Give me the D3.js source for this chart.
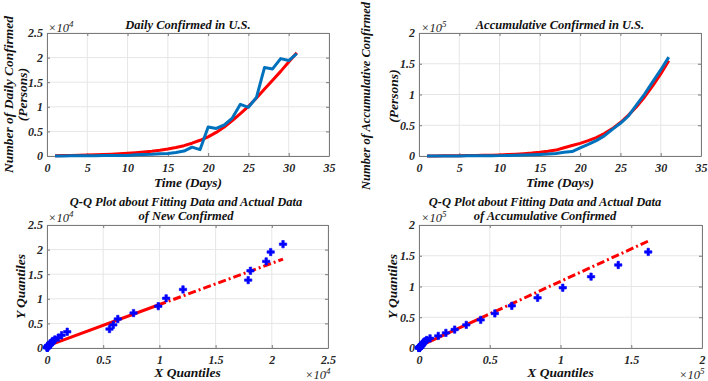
<!DOCTYPE html>
<html><head><meta charset="utf-8">
<script src="https://cdn.jsdelivr.net/npm/d3@7"></script>
<style>
body{margin:0;background:#fff;}
svg text{font-family:"Liberation Serif","Times New Roman",serif;}
</style>
</head><body>
<svg id="c" width="708" height="381"></svg>
<script>
// ---------- data ----------
const days = [1,2,3,4,5,6,7,8,9,10,11,12,13,14,15,16,17,18,19,20,21,22,23,24,25,26,27,28,29,30,31];
const dailyActual = [20,20,30,30,50,60,80,100,120,100,250,300,350,450,500,700,1000,1800,1300,5900,5600,6300,7700,10500,9900,11900,18000,17700,19800,19400,20800];
const dailyFit = [50,80,110,150,190,240,300,370,450,550,660,800,970,1180,1430,1730,2100,2600,3200,3900,4800,5900,7200,8600,10100,11800,13600,15400,17200,19100,21000];
const cumActual = [20,40,70,100,150,210,290,390,510,610,860,1160,1510,1960,2460,3160,4160,5960,7260,13160,18760,25060,32760,43260,53160,65060,83060,100760,120560,139960,160760];
const cumFit = [100,200,300,400,500,700,900,1100,1400,1800,2300,2900,3700,4700,6000,7600,9600,13500,17000,20500,25000,30000,36500,44500,54500,66500,80000,96000,114000,133500,155000];

const qqNewX = [20,20,30,30,50,60,80,100,100,120,250,300,350,450,500,700,1000,1300,1800,5560,5900,6300,7700,9900,10600,12100,17900,18100,19500,19900,21000];
const qqNewY = [50,80,110,150,190,240,300,370,450,550,660,800,970,1180,1430,1730,2100,2600,3300,3850,4700,5900,7100,8500,10100,11900,13800,15700,17600,19500,21100];
const qqNewRefX = [20,100,9900,21000];
const qqNewRefY = [417,484,8736,18082];

const qqCumX = [20,40,70,100,150,210,290,390,510,610,860,1160,1510,1960,2460,3100,4200,5400,7800,13600,19000,25200,33400,43600,53600,65600,83800,101600,121600,140800,162000];
const qqCumY = [100,200,300,400,500,700,900,1100,1400,1800,2300,2900,3700,4700,6000,9000,11000,13000,15700,19700,24600,30000,37600,45700,56200,68600,81600,98000,116000,135000,156200];
const qqCumRefX = [20,390,43600,162000];
const qqCumRefY = [2720,3110,48740,173800];

const dayTicks = [0,5,10,15,20,25,30,35];
const ticks25e4 = [0,5000,10000,15000,20000,25000];
const ticks2e5 = [0,50000,100000,150000,200000];

// ---------- drawing ----------
const svg = d3.select("#c");
const BLUE = "#0072BD", RED = "#FF0000", MARK = "#0000FF";
const FONT = "'Liberation Serif','Times New Roman',serif";

function fmt(scale){ return d => String(+(d/scale).toFixed(2)); }

function panel(p){
  const g = svg.append("g");
  const x = d3.scaleLinear().domain(p.xDomain).range([p.left, p.right]);
  const y = d3.scaleLinear().domain(p.yDomain).range([p.bottom, p.top]);
  // grid
  g.selectAll(null).data(p.xTicks).join("line")
    .attr("x1", d=>x(d)).attr("x2", d=>x(d)).attr("y1", p.top).attr("y2", p.bottom)
    .attr("stroke", "#e6e6e6").attr("stroke-width", 1);
  g.selectAll(null).data(p.yTicks).join("line")
    .attr("y1", d=>y(d)).attr("y2", d=>y(d)).attr("x1", p.left).attr("x2", p.right)
    .attr("stroke", "#e6e6e6").attr("stroke-width", 1);
  // axes
  const styleAxis = sel => {
    sel.select(".domain").attr("stroke", "#7a7a7a").attr("stroke-width", 1);
    sel.selectAll(".tick line").attr("stroke", "#7a7a7a");
    sel.selectAll(".tick text").attr("fill", "#262626")
      .style("font-family", FONT).style("font-size", "12px")
      .style("font-weight", "bold").style("font-style", "italic");
  };
  g.append("g").attr("transform", `translate(0,${p.bottom})`)
    .call(d3.axisBottom(x).tickValues(p.xTicks).tickFormat(fmt(p.xScale)).tickSizeInner(-3).tickSizeOuter(0).tickPadding(7))
    .call(styleAxis);
  g.append("g").attr("transform", `translate(${p.left},0)`)
    .call(d3.axisLeft(y).tickValues(p.yTicks).tickFormat(fmt(p.yScale)).tickSizeInner(-3).tickSizeOuter(0).tickPadding(4))
    .call(styleAxis);
  g.append("g").attr("transform", `translate(0,${p.top})`)
    .call(d3.axisTop(x).tickValues(p.xTicks).tickFormat("").tickSizeInner(-3).tickSizeOuter(0))
    .call(styleAxis);
  g.append("g").attr("transform", `translate(${p.right},0)`)
    .call(d3.axisRight(y).tickValues(p.yTicks).tickFormat("").tickSizeInner(-3).tickSizeOuter(0))
    .call(styleAxis);

  const txt = (sx, sy, str, size, rot) => {
    const t = g.append("text").attr("x", sx).attr("y", sy)
      .attr("text-anchor", "middle")
      .attr("fill", "#111")
      .style("font-family", FONT).style("font-size", size+"px")
      .style("font-weight", "bold").style("font-style", "italic")
      .text(str);
    if (rot) t.attr("transform", `rotate(-90,${sx},${sy})`);
    return t;
  };
  // titles
  p.title.forEach((s,i) => txt(p.titleX, p.titleY + i*14, s, 12.5));
  // axis labels
  txt((p.left+p.right)/2, p.xLabelY, p.xLabel, 13.5);
  p.yLabel.forEach((s,i) => txt(p.yLabelX[i], p.yLabelY || (p.top+p.bottom)/2, s, p.yLabelSize[i], true));
  // exponent labels
  const expo = (ex, ey, e) => {
    const t = g.append("text").attr("x", ex).attr("y", ey).attr("fill", "#262626")
      .style("font-family", FONT).style("font-size", "12.5px").style("font-style", "italic");
    t.append("tspan").text("\u00d710");
    t.append("tspan").attr("dy", -5).style("font-size", "9px").text(e);
  };
  p.exps.forEach(e => expo(e[0], e[1], e[2]));
  return {g, x, y};
}

// Panel 1: daily
{
  const {g, x, y} = panel({left:47, right:329, top:33, bottom:156,
    xDomain:[0,35], yDomain:[0,25000], xTicks:dayTicks, yTicks:ticks25e4, xScale:1, yScale:1e4,
    title:["Daily Confirmed in U.S."], titleX:188, titleY:29,
    xLabel:"Time (Days)", xLabelY:187,
    yLabel:["Number of Daily Confirmed","(Persons)"], yLabelX:[13,27], yLabelSize:[13.5,13.5],
    exps:[[48,32,"4"]]});
  const line = d3.line().x((d,i)=>x(days[i])).y(d=>y(d));
  g.append("path").attr("d", line(dailyFit)).attr("fill","none").attr("stroke",RED).attr("stroke-width",3).attr("stroke-linejoin","round");
  g.append("path").attr("d", line(dailyActual)).attr("fill","none").attr("stroke",BLUE).attr("stroke-width",3).attr("stroke-linejoin","round");
}
// Panel 2: cumulative
{
  const {g, x, y} = panel({left:419, right:701, top:33, bottom:156,
    xDomain:[0,35], yDomain:[0,200000], xTicks:dayTicks, yTicks:ticks2e5, xScale:1, yScale:1e5,
    title:["Accumulative Confirmed in U.S."], titleX:560, titleY:29,
    xLabel:"Time (Days)", xLabelY:187,
    yLabel:["Number of Accumulative Confirmed","(Persons)"], yLabelX:[370,398], yLabelY:96, yLabelSize:[12.5,13.5],
    exps:[[421,32,"5"]]});
  const line = d3.line().x((d,i)=>x(days[i])).y(d=>y(d));
  g.append("path").attr("d", line(cumFit)).attr("fill","none").attr("stroke",RED).attr("stroke-width",3).attr("stroke-linejoin","round");
  g.append("path").attr("d", line(cumActual)).attr("fill","none").attr("stroke",BLUE).attr("stroke-width",3).attr("stroke-linejoin","round");
}
function qqRef(g, x, y, rx, ry){
  const seg = (i,j,dash) => {
    const p = g.append("path").attr("d", d3.line()([[x(rx[i]),y(ry[i])],[x(rx[j]),y(ry[j])]]))
      .attr("stroke", RED).attr("stroke-width", 3).attr("fill","none");
    if (dash) p.attr("stroke-dasharray", "8,3,2,3");
  };
  seg(0,1,true); seg(1,2,false); seg(2,3,true);
}
function qqPts(g, x, y, xs, ys){
  const sym = d3.symbol().type(d3.symbolCross).size(30);
  g.selectAll(null).data(xs).join("path")
    .attr("d", sym).attr("transform", (d,i)=>`translate(${x(d)},${y(ys[i])})`)
    .attr("fill", MARK).attr("stroke", MARK).attr("stroke-width", 0.6).attr("stroke-linejoin","round");
}
// Panel 3: QQ new
{
  const {g, x, y} = panel({left:47, right:328, top:225, bottom:348,
    xDomain:[0,25000], yDomain:[0,25000], xTicks:ticks25e4, yTicks:ticks25e4, xScale:1e4, yScale:1e4,
    title:["Q-Q Plot about Fitting Data and Actual Data","of New Confirmed"], titleX:186, titleY:206,
    xLabel:"X Quantiles", xLabelY:377,
    yLabel:["Y Quantiles"], yLabelX:[25], yLabelSize:[13.5],
    exps:[[305,379,"4"],[48,222,"4"]]});
  qqRef(g, x, y, qqNewRefX, qqNewRefY);
  qqPts(g, x, y, qqNewX, qqNewY);
}
// Panel 4: QQ cumulative
{
  const {g, x, y} = panel({left:419, right:702, top:225, bottom:348,
    xDomain:[0,200000], yDomain:[0,200000], xTicks:ticks2e5, yTicks:ticks2e5, xScale:1e5, yScale:1e5,
    title:["Q-Q Plot about Fitting Data and Actual Data","of Accumulative Confirmed"], titleX:545, titleY:206,
    xLabel:"X Quantiles", xLabelY:377,
    yLabel:["Y Quantiles"], yLabelX:[397], yLabelSize:[13.5],
    exps:[[421,222,"5"],[679,379,"5"]]});
  qqRef(g, x, y, qqCumRefX, qqCumRefY);
  qqPts(g, x, y, qqCumX, qqCumY);
}
</script>
</body></html>
